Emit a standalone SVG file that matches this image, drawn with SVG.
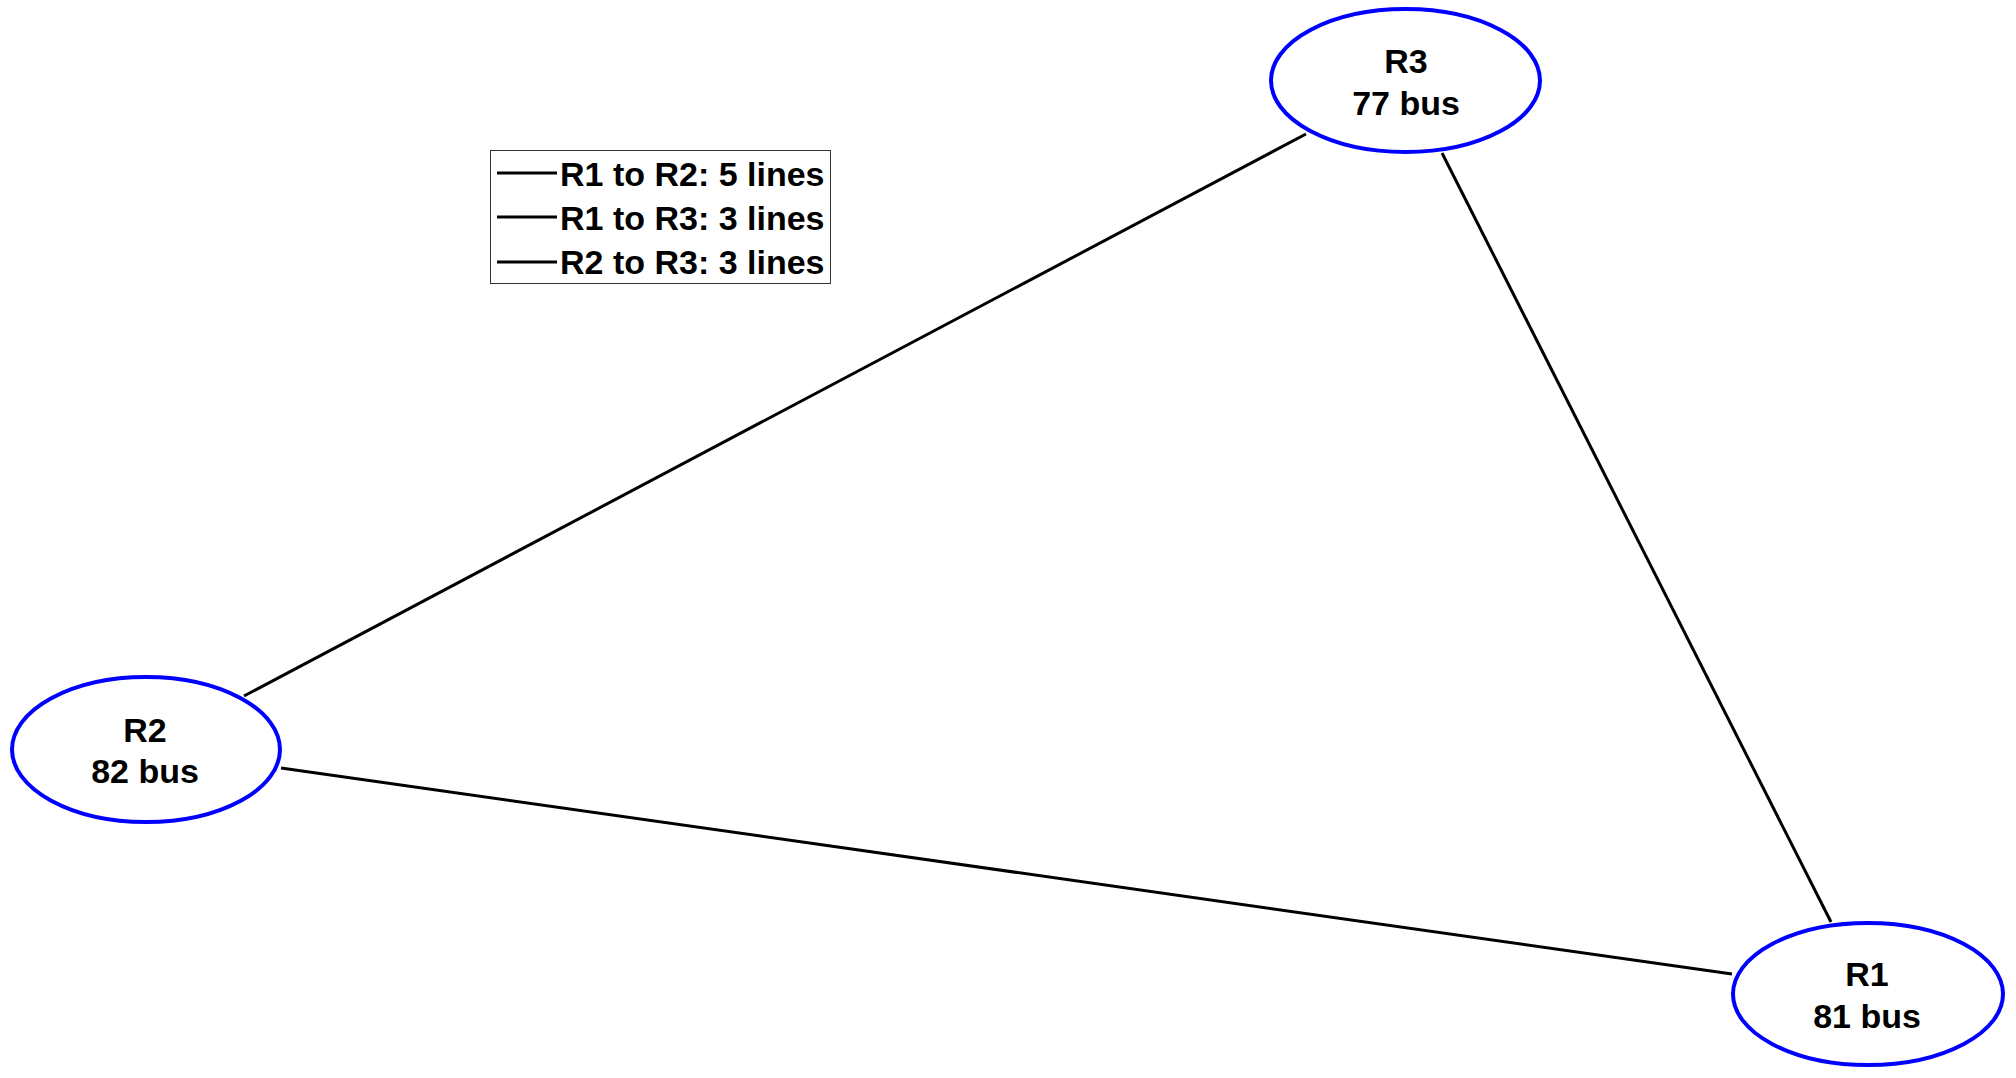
<svg xmlns="http://www.w3.org/2000/svg" width="2016" height="1078" viewBox="0 0 2016 1078">
  <style>
    .node ellipse { fill: #ffffff; stroke: #0000ff; stroke-width: 4; }
    .node text, .legend text { font-family: "Liberation Sans", Arial, sans-serif; font-weight: bold; font-size: 34px; fill: #000000; }
    .node text { text-anchor: middle; }
    .edge { stroke: #000000; stroke-width: 3; fill: none; }
    .legend rect { fill: #ffffff; stroke: #333333; stroke-width: 1; }
    .legend line { stroke: #000000; stroke-width: 3; }
  </style>
  <rect width="2016" height="1078" fill="#ffffff"/>

  <!-- connectors between regions -->
  <g id="edges">
    <line class="edge" x1="1306" y1="134" x2="244" y2="696"/>
    <line class="edge" x1="1442" y1="153" x2="1831" y2="922"/>
    <line class="edge" x1="281" y1="768" x2="1732" y2="974"/>
  </g>

  <!-- regions -->
  <g id="R3" class="node">
    <ellipse cx="1405.5" cy="80.5" rx="134.5" ry="71.5"/>
    <text x="1406" y="73">R3</text>
    <text x="1406" y="115">77 bus</text>
  </g>
  <g id="R2" class="node">
    <ellipse cx="146" cy="749.5" rx="134" ry="72.5"/>
    <text x="145" y="742">R2</text>
    <text x="145" y="783">82 bus</text>
  </g>
  <g id="R1" class="node">
    <ellipse cx="1868" cy="994" rx="135" ry="71"/>
    <text x="1867" y="986">R1</text>
    <text x="1867" y="1028">81 bus</text>
  </g>

  <!-- legend -->
  <g id="legend" class="legend">
    <rect x="490.5" y="150.5" width="340" height="133"/>
    <line x1="497" y1="173" x2="557" y2="173"/>
    <line x1="497" y1="217" x2="557" y2="217"/>
    <line x1="497" y1="262" x2="557" y2="262"/>
    <text x="560" y="186">R1 to R2: 5 lines</text>
    <text x="560" y="230">R1 to R3: 3 lines</text>
    <text x="560" y="274">R2 to R3: 3 lines</text>
  </g>
</svg>
